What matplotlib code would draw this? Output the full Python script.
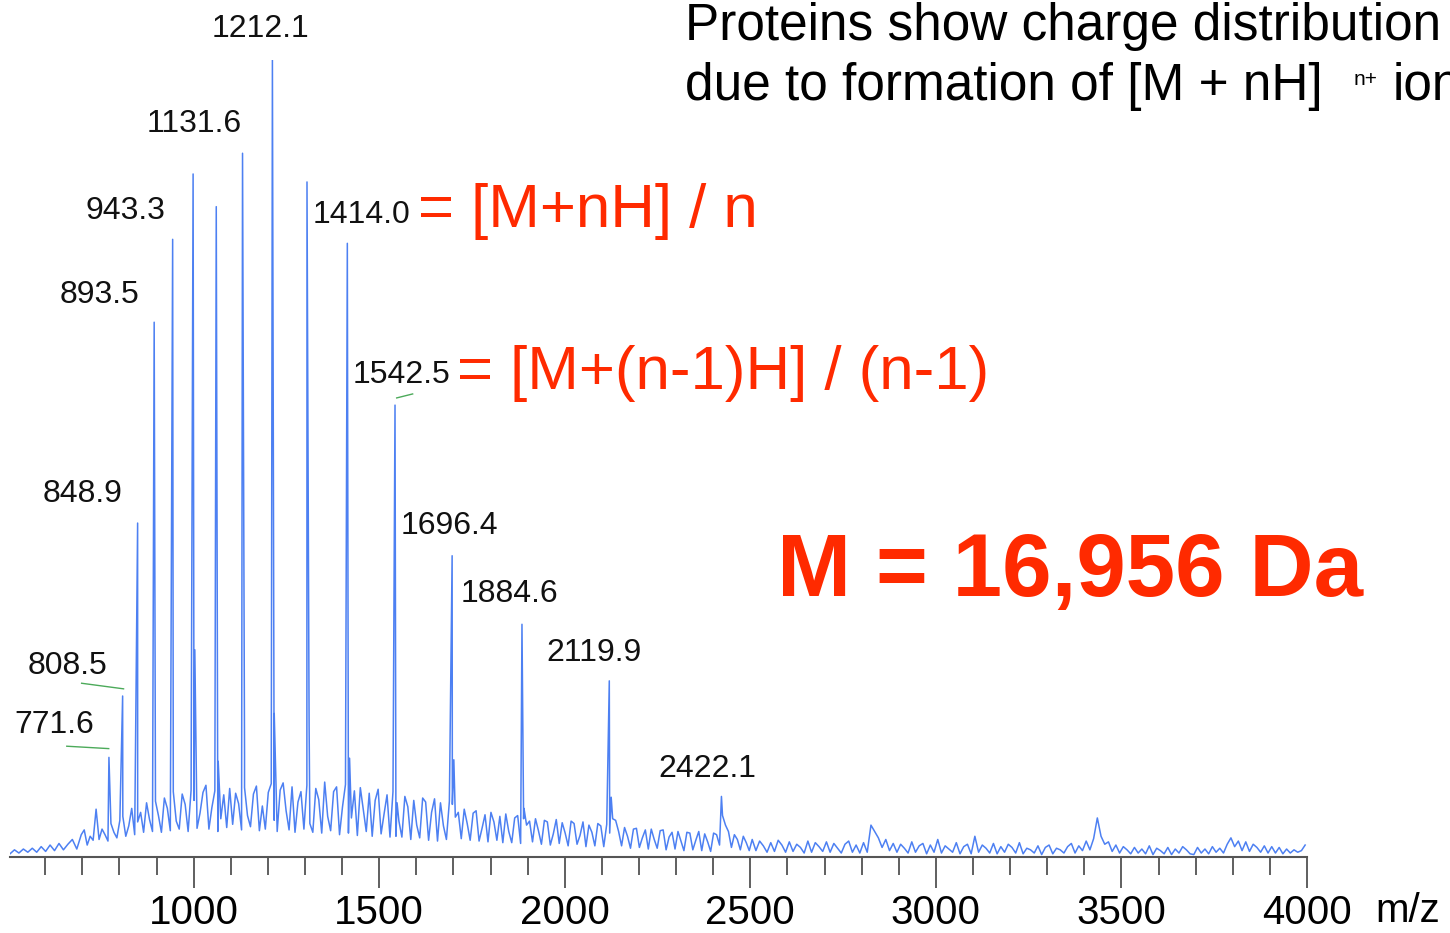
import numpy as np
import matplotlib
matplotlib.use('Agg')
import matplotlib.pyplot as plt
from matplotlib.ticker import MultipleLocator

plt.rcParams['font.family'] = ['Liberation Sans', 'DejaVu Sans']

# 스펙트럼 노이즈 (눈으로 읽은 값, 상대 강도 %)
noise_a_mz = np.arange(505, 698, 12)
noise_a = [0.4, 0.9, 0.5, 1.0, 0.6, 1.1, 0.6, 1.3, 0.7, 1.5, 0.8, 1.7, 0.9, 1.6, 2.2, 1.0, 2.8]

noise_b_mz = np.arange(705, 2498, 8)
noise_b = [
    3.4, 1.5, 2.6, 2.1, 6.0, 2.2, 3.5, 2.8, 2.0, 4.2, 3.1, 2.4, 4.6, 5.1, 2.6, 3.9, 6.1, 2.8, 4.4, 5.6, 3.1, 6.8, 4.7, 3.2, 7.0,
    5.2, 3.1, 7.4, 6.1, 3.3, 8.2, 4.5, 3.5, 7.9, 6.6, 3.2, 8.4, 7.1, 3.6, 5.5, 8.1, 9.0, 3.5, 6.2, 8.3, 3.2, 4.8, 7.8, 3.7, 8.6,
    4.1, 8.0, 6.7, 3.4, 8.7, 5.2, 3.8, 7.9, 8.9, 3.3, 6.4, 3.5, 8.1, 9.2, 4.6, 3.2, 8.4, 9.3, 5.8, 3.4, 8.8, 3.1, 6.9, 8.2, 3.5,
    9.0, 4.2, 3.1, 8.6, 7.2, 3.0, 9.4, 5.1, 3.3, 8.2, 8.8, 2.8, 6.3, 9.1, 3.0, 4.9, 8.3, 2.7, 8.7, 6.0, 3.2, 8.0, 2.6, 7.1, 8.5,
    2.9, 5.4, 7.8, 2.5, 8.2, 2.6, 4.5, 2.5, 7.6, 6.3, 2.2, 7.1, 4.0, 2.4, 7.4, 6.9, 2.1, 5.6, 7.3, 2.0, 6.8, 3.9, 2.2, 7.0, 6.6,
    5.0, 5.6, 2.3, 6.0, 4.2, 2.1, 5.5, 5.8, 2.0, 3.6, 5.3, 1.9, 5.6, 4.4, 2.1, 5.1, 1.8, 5.4, 3.2, 1.8, 4.9, 5.2, 1.7, 4.8, 4.0,
    4.5, 1.9, 4.8, 3.3, 1.6, 4.6, 4.4, 1.5, 2.9, 4.7, 1.7, 4.3, 3.0, 1.4, 4.5, 4.2, 1.6, 2.7, 4.4, 1.3, 4.0, 3.1, 1.4, 4.2, 3.9,
    1.3, 4.1, 3.0, 4.8, 4.6, 3.2, 1.4, 3.7, 2.6, 1.1, 3.5, 3.6, 1.2, 2.4, 3.4, 1.0, 3.5, 2.2, 1.1, 3.3, 3.4, 0.9, 2.5, 3.1, 1.0,
    3.2, 2.0, 0.8, 3.1, 3.0, 0.9, 2.1, 3.2, 0.8, 2.9, 1.9, 0.7, 3.0, 2.8, 1.5, 5.2, 4.0, 3.2, 1.2, 2.8, 2.2, 0.9, 2.6, 1.8, 0.8,
]

noise_c_mz = np.arange(2505, 4000, 10)
noise_c = [
    2.2, 0.8, 2.0, 1.4, 0.6, 1.8, 0.7, 2.1, 1.5, 0.6, 1.9, 0.7, 1.6, 1.2, 0.5, 2.0, 0.6, 1.8, 1.3, 0.7,
    1.9, 0.6, 1.7, 1.1, 0.5, 1.6, 2.0, 0.6, 1.5, 0.5, 1.8, 0.6, 4.0, 3.2, 2.4, 1.2, 2.2, 0.8, 1.7, 0.6,
    1.6, 1.1, 0.5, 1.9, 0.6, 1.4, 1.7, 0.4, 1.5, 0.6, 2.2, 0.5, 1.4, 1.0, 0.6, 1.8, 0.4, 1.3, 1.6, 0.4,
    2.6, 0.6, 1.5, 1.1, 0.5, 1.7, 0.4, 1.3, 0.6, 1.6, 1.2, 0.5, 1.8, 0.4, 1.1, 0.9, 0.5, 1.4, 0.3, 1.2,
    1.5, 0.4, 1.1, 0.9, 0.5, 1.3, 1.7, 0.5, 1.4, 0.8, 2.0, 0.9, 2.3, 4.9, 2.6, 1.6, 1.9, 0.7, 1.5, 0.5,
    1.3, 0.9, 0.4, 1.2, 0.5, 1.0, 0.4, 1.4, 0.3, 1.1, 0.8, 0.4, 1.2, 0.3, 1.0, 0.5, 1.3, 0.9, 0.4, 0.3,
    1.2, 0.5, 1.0, 0.4, 1.3, 0.6, 1.1, 0.5, 1.6, 2.4, 1.3, 2.0, 0.8, 1.9, 0.7, 1.6, 1.2, 0.6, 1.4, 0.5,
    1.3, 0.5, 1.2, 0.4, 1.0, 0.5, 0.9, 0.6, 0.8, 1.5,
]

# 전하 상태별 피크 [M+nH]n+
peak_mz = [771.6, 808.5, 848.9, 893.5, 943.3, 998.4, 1060.8, 1131.6, 1212.1,
           1305.3, 1414.0, 1542.5, 1696.4, 1884.6, 2119.9, 2422.1]
peak_int = [12.5, 20.2, 41.9, 67.1, 77.5, 85.7, 81.6, 88.3, 100.0,
            84.7, 77.0, 56.7, 37.8, 29.2, 22.1, 7.6]

# 피크 옆 어깨(adduct)
shoulder_mz = [1003, 1066, 1137, 1217, 1311, 1420, 1548, 1701, 1890, 2125]
shoulder_int = [26.0, 12.0, 13.0, 18.0, 16.5, 12.4, 6.8, 12.2, 6.1, 7.5]

# 라벨 (텍스트, x, y, 정렬)
labels = ['1212.1', '1131.6', '943.3', '893.5', '848.9', '808.5', '771.6',
          '1414.0', '1542.5', '1696.4', '1884.6', '2119.9', '2422.1']
label_x = [1180, 1000, 817, 747, 701, 660, 623, 1321, 1429, 1690, 1852, 2078, 2385]
label_y = [103.9, 92.0, 81.0, 70.5, 45.5, 24.0, 16.5, 80.6, 60.5, 41.5, 33.0, 25.6, 11.0]
label_ha = ['center'] * 7 + ['left', 'left'] + ['center'] * 4

mz = np.concatenate([noise_a_mz, noise_b_mz, noise_c_mz, peak_mz, shoulder_mz])
inten = np.concatenate([noise_a, noise_b, noise_c, peak_int, shoulder_int])
order = np.argsort(mz)
mz, inten = mz[order], inten[order]

red = '#ff2a00'
blue = '#4d80f2'

fig = plt.figure(figsize=(14.5, 9.33), dpi=100)
ax = fig.add_axes([10 / 1450, 76 / 933, 1297 / 1450, 797 / 933])
ax.plot(mz, inten, color=blue, lw=1.1)
ax.set_xlim(505, 4000)
ax.set_ylim(0, 100)

for s in ['top', 'right', 'left']:
    ax.spines[s].set_visible(False)
ax.spines['bottom'].set_color('#555555')
ax.spines['bottom'].set_linewidth(1.5)
ax.set_yticks([])
ax.xaxis.set_major_locator(MultipleLocator(500))
ax.xaxis.set_minor_locator(MultipleLocator(100))
ax.tick_params(axis='x', which='major', length=22, width=1.2, color='#444444',
               labelsize=29, pad=5)
ax.tick_params(axis='x', which='minor', length=13, width=1.2, color='#444444')
ax.text(1.078, -0.068, 'm/z', transform=ax.transAxes, fontsize=29, ha='center', va='center')

for t, x, y, ha in zip(labels, label_x, label_y, label_ha):
    ax.text(x, y, t, fontsize=23, ha=ha, va='center', color='#111111')

# 녹색 지시선
green = '#4caa5a'
ax.plot([658, 771], [13.9, 13.6], color=green, lw=1)
ax.plot([698, 811], [21.8, 21.1], color=green, lw=1)
ax.plot([1547, 1590], [57.6, 58.1], color=green, lw=1)

ax.text(1604, 81, '= [M+nH] / n', fontsize=44.5, color=red, ha='left', va='center')
ax.text(1709, 60.7, '= [M+(n-1)H] / (n-1)', fontsize=44.5, color=red, ha='left', va='center')
ax.text(2571, 35.6, 'M = 16,956 Da', fontsize=64, fontweight='bold', color=red,
        ha='left', va='center')

fig.text(685 / 1450, 1 - 40 / 933, 'Proteins show charge distribution', fontsize=37,
         ha='left', va='baseline')
fig.text(685 / 1450, 1 - 100 / 933, 'due to formation of [M + nH]', fontsize=37,
         ha='left', va='baseline')
fig.text(1354 / 1450, 1 - 85 / 933, 'n+', fontsize=15, ha='left', va='baseline')
fig.text(1393 / 1450, 1 - 100 / 933, 'ions', fontsize=37, ha='left', va='baseline')

fig.savefig('out.png', dpi=100)
